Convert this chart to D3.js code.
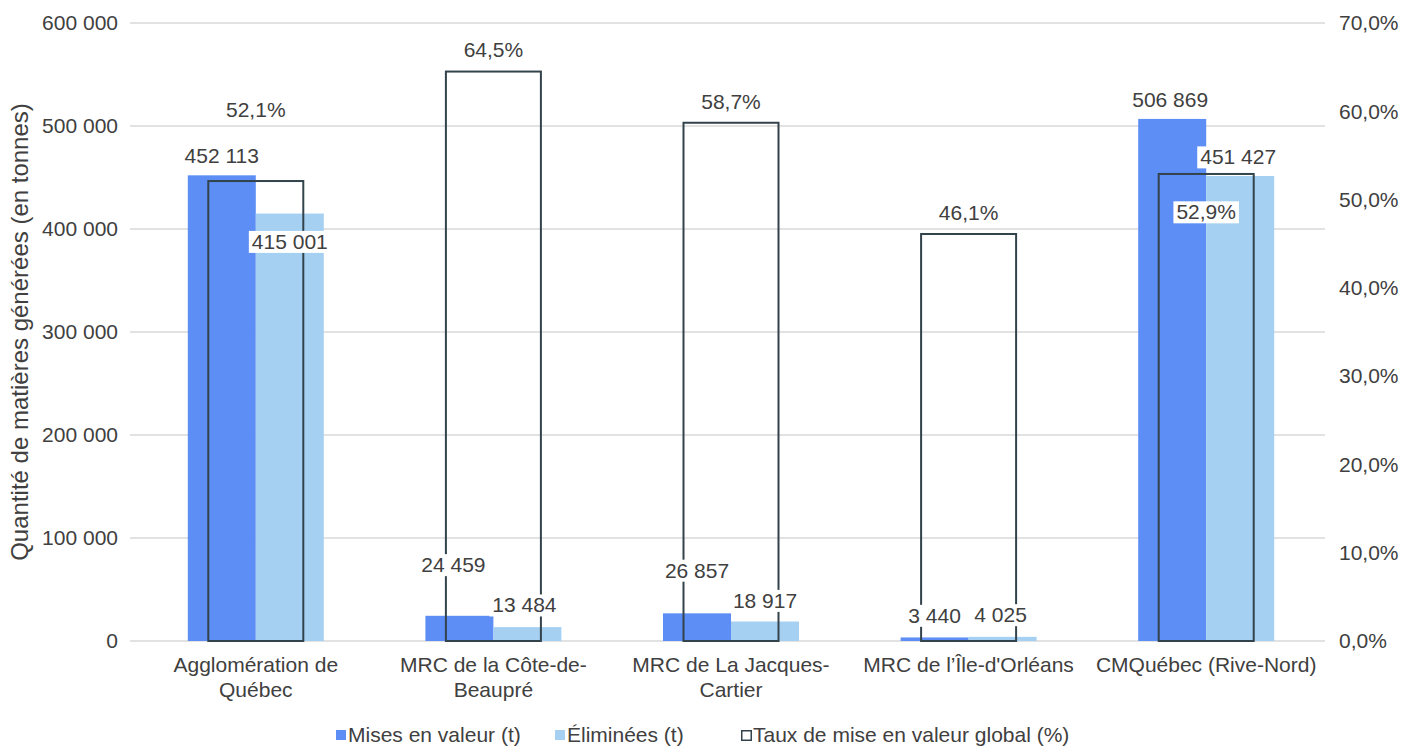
<!DOCTYPE html>
<html><head><meta charset="utf-8">
<script src="https://cdn.jsdelivr.net/npm/d3@7"></script>
<style>
html,body{margin:0;padding:0;background:#fff;}
svg{display:block;font-family:"Liberation Sans",Arial,sans-serif;}
</style></head>
<body><svg id="c" width="1406" height="746"></svg>
<script>
// ---- data ----
const categories = [
  ["Agglomération de", "Québec"],
  ["MRC de la Côte-de-", "Beaupré"],
  ["MRC de La Jacques-", "Cartier"],
  ["MRC de l’Île-d'Orléans"],
  ["CMQuébec (Rive-Nord)"]
];
const misesEnValeur = [452113, 24459, 26857, 3440, 506869];
const eliminees = [415001, 13484, 18917, 4025, 451427];
const tauxMiseEnValeur = [52.1, 64.5, 58.7, 46.1, 52.9];
const leftTicks = [0, 100000, 200000, 300000, 400000, 500000, 600000];
const rightTicks = [0, 10, 20, 30, 40, 50, 60, 70];
const seriesNames = ["Mises en valeur (t)", "Éliminées (t)", "Taux de mise en valeur global (%)"];

// ---- layout (label nudges in px, relative to the mark top) ----
const nudgeMises = [[0,-20],[-6,-51],[0,-43],[0,-22],[-2,-19]];
const nudgeElim  = [[0,28],[-3,-22],[0,-21],[-2,-22],[-2,-19]];
const nudgeTaux  = [[0,-71],[0,-22],[0,-21],[0,-21],[0,38]];

const colBlue = "#5C8EF5", colLight = "#A5D0F2", colBox = "#33434B", txt = "#404040";
const M = {l:137, r:1325, t:23, b:641};
const svg = d3.select("#c");

const x = d3.scaleBand().domain(d3.range(categories.length)).range([M.l, M.r]).padding(0);
const yL = d3.scaleLinear().domain([0, 600000]).range([M.b, M.t]);
const yR = d3.scaleLinear().domain([0, 70]).range([M.b, M.t]);
const fmtN = v => d3.format(",")(v).replace(/,/g, " ");
const fmtP = (v, d) => v.toFixed(d).replace(".", ",") + "%";

// gridlines
svg.append("g").selectAll("line").data(leftTicks).join("line")
  .attr("x1", M.l - 7).attr("x2", M.r)
  .attr("y1", d => yL(d)).attr("y2", d => yL(d))
  .attr("stroke", "#D9D9D9").attr("stroke-width", 1.5);

// left axis
const axL = svg.append("g").attr("transform", `translate(${M.l},0)`)
  .call(d3.axisLeft(yL).tickValues(leftTicks).tickFormat(fmtN).tickSize(0).tickPadding(19));
axL.select(".domain").remove();
axL.selectAll("text").attr("font-size", 21).attr("fill", txt).attr("font-family", "Liberation Sans, Arial");

// right axis
const axR = svg.append("g").attr("transform", `translate(${M.r},0)`)
  .call(d3.axisRight(yR).tickValues(rightTicks).tickFormat(d => fmtP(d, 1)).tickSize(0).tickPadding(14));
axR.select(".domain").remove();
axR.selectAll("text").attr("font-size", 21).attr("fill", txt).attr("font-family", "Liberation Sans, Arial");

// axis title
svg.append("text").attr("transform", `translate(28,${(M.t + M.b) / 2}) rotate(-90)`)
  .attr("text-anchor", "middle").attr("font-size", 24).attr("fill", txt)
  .text("Quantité de matières générées (en tonnes)");

// bars
const barW = 68;
const cx = i => x(i) + x.bandwidth() / 2;
svg.append("g").selectAll("rect").data(misesEnValeur).join("rect")
  .attr("x", (d, i) => cx(i) - barW).attr("width", barW)
  .attr("y", d => yL(d)).attr("height", d => yL(0) - yL(d)).attr("fill", colBlue);
svg.append("g").selectAll("rect").data(eliminees).join("rect")
  .attr("x", (d, i) => cx(i)).attr("width", barW)
  .attr("y", d => yL(d)).attr("height", d => yL(0) - yL(d)).attr("fill", colLight);

// rate boxes
const boxW = 95;
svg.append("g").selectAll("rect").data(tauxMiseEnValeur).join("rect")
  .attr("x", (d, i) => cx(i) - boxW / 2).attr("width", boxW)
  .attr("y", d => yR(d)).attr("height", d => yR(0) - yR(d))
  .attr("fill", "none").attr("stroke", colBox).attr("stroke-width", 2);

// labels with white background
const labG = svg.append("g");
function label(xp, yp, s) {
  const g = labG.append("g");
  const r = g.append("rect").attr("fill", "#fff");
  const t = g.append("text").attr("x", xp).attr("y", yp).attr("dy", "0.35em")
    .attr("text-anchor", "middle").attr("font-size", 21).attr("fill", txt).text(s);
  const b = t.node().getBBox();
  r.attr("x", b.x - 3).attr("y", b.y + 1).attr("width", b.width + 6).attr("height", b.height - 1);
}
misesEnValeur.forEach((v, i) => label(cx(i) - barW / 2 + nudgeMises[i][0], yL(v) + nudgeMises[i][1], fmtN(v)));
eliminees.forEach((v, i) => label(cx(i) + barW / 2 + nudgeElim[i][0], yL(v) + nudgeElim[i][1], fmtN(v)));
tauxMiseEnValeur.forEach((v, i) => label(cx(i) + nudgeTaux[i][0], yR(v) + nudgeTaux[i][1], fmtP(v, 1)));

// category labels
categories.forEach((lines, i) => {
  const t = svg.append("text").attr("x", cx(i)).attr("y", 672)
    .attr("text-anchor", "middle").attr("font-size", 21).attr("fill", txt);
  lines.forEach((ln, k) => t.append("tspan").attr("x", cx(i)).attr("dy", k ? 25 : 0).text(ln));
});

// legend
const leg = svg.append("g");
const legX = [336, 555, 741];
const legStyle = [
  {fill: colBlue, stroke: "none"},
  {fill: colLight, stroke: "none"},
  {fill: "none", stroke: colBox}
];
seriesNames.forEach((n, i) => {
  leg.append("rect").attr("x", legX[i] + (i === 2 ? 0.75 : 0)).attr("y", 730 + (i === 2 ? 0.75 : 0))
    .attr("width", i === 2 ? 9.5 : 10).attr("height", i === 2 ? 9.5 : 10)
    .attr("fill", legStyle[i].fill).attr("stroke", legStyle[i].stroke).attr("stroke-width", 1.5);
  leg.append("text").attr("x", legX[i] + 12).attr("y", 735).attr("dy", "0.35em")
    .attr("font-size", 21).attr("fill", txt).text(n);
});
</script></body></html>
